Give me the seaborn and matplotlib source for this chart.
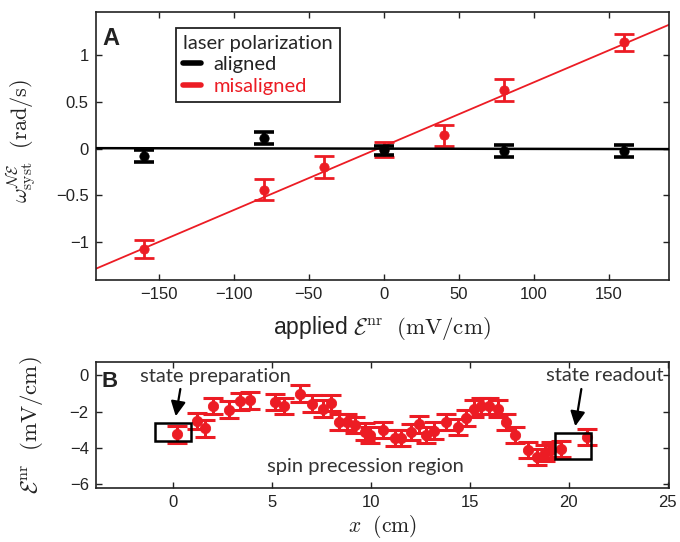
import matplotlib
matplotlib.use("Agg")
import matplotlib.pyplot as plt
import matplotlib.patches as patches
from matplotlib.lines import Line2D
import seaborn as sns

sns.set_style("ticks")
plt.rcParams["font.family"] = ["Liberation Sans", "DejaVu Sans"]
plt.rcParams["mathtext.fontset"] = "cm"
plt.rcParams["xtick.direction"] = "in"
plt.rcParams["ytick.direction"] = "in"

RED = "#ec1c24"
ANNOT_FONT = ["Lato", "DejaVu Sans"]

# panel A: systematic frequency vs applied field
aligned_E = [-160, -80, 0, 80, 160]
aligned_w = [-0.08, 0.115, -0.018, -0.025, -0.025]
aligned_err = [0.065, 0.06, 0.05, 0.06, 0.06]

misaligned_E = [-160, -80, -40, 0, 40, 80, 160]
misaligned_w = [-1.07, -0.437, -0.197, -0.007, 0.143, 0.631, 1.14]
misaligned_err = [0.095, 0.115, 0.118, 0.08, 0.11, 0.116, 0.093]

fit_E = [-192, 192]
aligned_fit = [0.006, -0.004]
misaligned_fit = [-1.285, 1.34]

a_yticks = [-1, -0.5, 0, 0.5, 1]
a_yticklabels = ["\u22121", "\u22120.5", "0", "0.5", "1"]
a_xticks = [-150, -100, -50, 0, 50, 100, 150]

# panel B: non-reversing field along the beam
pos_x = [0.2, 1.2, 1.6, 2.0, 2.85, 3.4, 3.9, 5.15, 5.6, 6.4, 7.0, 7.6, 8.0,
         8.4, 8.8, 9.2, 9.7, 9.95, 10.6, 11.2, 11.5, 12.0, 12.45, 12.8, 13.2,
         13.8, 14.4, 14.8, 15.2, 15.55, 15.95, 16.4, 16.8, 17.3, 17.95, 18.4,
         18.8, 19.1, 19.6, 20.9]
enr = [-3.23, -2.5, -2.92, -1.68, -1.88, -1.43, -1.38, -1.46, -1.68, -1.0,
       -1.55, -1.83, -1.52, -2.55, -2.55, -2.72, -3.09, -3.27, -3.02, -3.44,
       -3.44, -3.1, -2.7, -3.3, -3.04, -2.55, -2.83, -2.35, -1.83, -1.68,
       -1.68, -1.83, -2.58, -3.28, -4.1, -4.5, -4.28, -4.1, -4.07, -3.4]
enr_err = [0.47, 0.45, 0.45, 0.45, 0.45, 0.45, 0.45, 0.45, 0.45, 0.45,
           0.45, 0.45, 0.45, 0.45, 0.45, 0.45, 0.45, 0.45, 0.45, 0.45,
           0.45, 0.45, 0.45, 0.45, 0.45, 0.45, 0.45, 0.45, 0.45, 0.45,
           0.45, 0.45, 0.45, 0.45, 0.45, 0.45, 0.45, 0.45, 0.45, 0.45]
b_yticks = [-6, -4, -2, 0]
b_xticks = [0, 5, 10, 15, 20, 25]

fig = plt.figure(figsize=(6.8, 5.42), dpi=100)
axA = fig.add_axes([0.1407, 0.4825, 0.843, 0.4948])
axB = fig.add_axes([0.1407, 0.0996, 0.843, 0.233])


def style_axes(ax):
    for s in ax.spines.values():
        s.set_linewidth(1.2)
        s.set_color("#222222")
    ax.tick_params(top=True, right=True, length=4, width=1.0,
                   labelsize=12, pad=5, colors="#222222")


# ---- panel A ----
sns.lineplot(x=fit_E, y=misaligned_fit, ax=axA, color=RED, lw=1.3, zorder=2)
axA.errorbar(misaligned_E, misaligned_w, yerr=misaligned_err, fmt="none",
             ecolor=RED, elinewidth=2.0, capsize=7, capthick=2.0, zorder=3)
sns.scatterplot(x=misaligned_E, y=misaligned_w, ax=axA, color=RED, s=45,
                edgecolor=RED, zorder=4)

sns.lineplot(x=fit_E, y=aligned_fit, ax=axA, color="black", lw=1.8, zorder=5)
axA.errorbar(aligned_E, aligned_w, yerr=aligned_err, fmt="none",
             ecolor="black", elinewidth=2.6, capsize=7, capthick=2.6, zorder=6)
sns.scatterplot(x=aligned_E, y=aligned_w, ax=axA, color="black", s=45,
                edgecolor="black", zorder=7)

axA.set_xlim(-192, 190)
axA.set_ylim(-1.41, 1.46)
axA.set_xticks(a_xticks)
axA.set_xticklabels([str(v).replace("-", "\u2212") for v in a_xticks])
axA.set_yticks(a_yticks)
axA.set_yticklabels(a_yticklabels)
style_axes(axA)
axA.set_xlabel("applied " + r"$\mathcal{E}^{\rm nr}\ \ (\rm mV/cm)$",
               fontsize=16.5, color="#222222")
axA.set_ylabel(r"$\omega^{\mathcal{NE}}_{\rm syst}\ \ (\rm rad/s)$",
               fontsize=16, color="#222222")
axA.xaxis.set_label_coords(0.5, -0.125)
axA.yaxis.set_label_coords(-0.1, 0.52)
axA.text(0.012, 0.945, "A", transform=axA.transAxes, fontsize=17,
         fontweight="bold", va="top", ha="left", color="#222222")

handles = [Line2D([], [], color="black", lw=4),
           Line2D([], [], color=RED, lw=4)]
leg = axA.legend(handles, ["aligned", "misaligned"], title="laser polarization",
                 loc="upper left", bbox_to_anchor=(0.14, 0.943),
                 borderaxespad=0, handlelength=0.9, handletextpad=0.6,
                 borderpad=0.35, labelspacing=0.22, fancybox=False,
                 framealpha=1, edgecolor="#222222",
                 prop={"family": ANNOT_FONT, "size": 14.5},
                 title_fontproperties={"family": ANNOT_FONT, "size": 14.5})
leg.get_frame().set_linewidth(1.3)
leg._legend_box.align = "left"
leg.get_texts()[1].set_color(RED)
leg.get_texts()[0].set_color("#222222")

# ---- panel B ----
axB.errorbar(pos_x, enr, yerr=enr_err, fmt="none", ecolor=RED,
             elinewidth=2.2, capsize=7.5, capthick=2.2, zorder=3)
sns.scatterplot(x=pos_x, y=enr, ax=axB, color=RED, s=55, edgecolor=RED,
                zorder=4)
axB.set_xlim(-3.9, 25.05)
axB.set_ylim(-6.2, 0.75)
axB.set_xticks(b_xticks)
axB.set_yticks(b_yticks)
axB.set_yticklabels([str(v).replace("-", "\u2212") for v in b_yticks])
style_axes(axB)
axB.set_xlabel(r"$x\ \ (\rm cm)$", fontsize=15.5, color="#222222")
axB.set_ylabel(r"$\mathcal{E}^{\rm nr}\ \ (\rm mV/cm)$", fontsize=16.5,
               color="#222222")
axB.xaxis.set_label_coords(0.5, -0.2)
axB.yaxis.set_label_coords(-0.088, 0.5)
axB.text(0.01, 0.93, "B", transform=axB.transAxes, fontsize=16,
         fontweight="bold", va="top", ha="left", color="#222222")

axB.add_patch(patches.Rectangle((-0.9, -3.6), 1.8, 1.0, fill=False,
                                lw=1.8, ec="black", zorder=6))
axB.add_patch(patches.Rectangle((19.3, -4.6), 1.8, 1.42, fill=False,
                                lw=1.8, ec="black", zorder=6))
axB.annotate("", xy=(0.12, -2.4), xytext=(0.4, -0.6),
             arrowprops=dict(arrowstyle="-|>", color="black", lw=1.6,
                             mutation_scale=22))
axB.annotate("", xy=(20.3, -2.95), xytext=(20.65, -0.6),
             arrowprops=dict(arrowstyle="-|>", color="black", lw=1.6,
                             mutation_scale=22))
axB.text(-1.64, -0.09, "state preparation", family=ANNOT_FONT, fontsize=14.5,
         ha="left", va="center", color="#333333")
axB.text(21.8, 0.0, "state readout", family=ANNOT_FONT, fontsize=14.5,
         ha="center", va="center", color="#333333")
axB.text(9.73, -5.0, "spin precession region", family=ANNOT_FONT,
         fontsize=14.5, ha="center", va="center", color="#333333")

fig.savefig("out.png", dpi=100)
